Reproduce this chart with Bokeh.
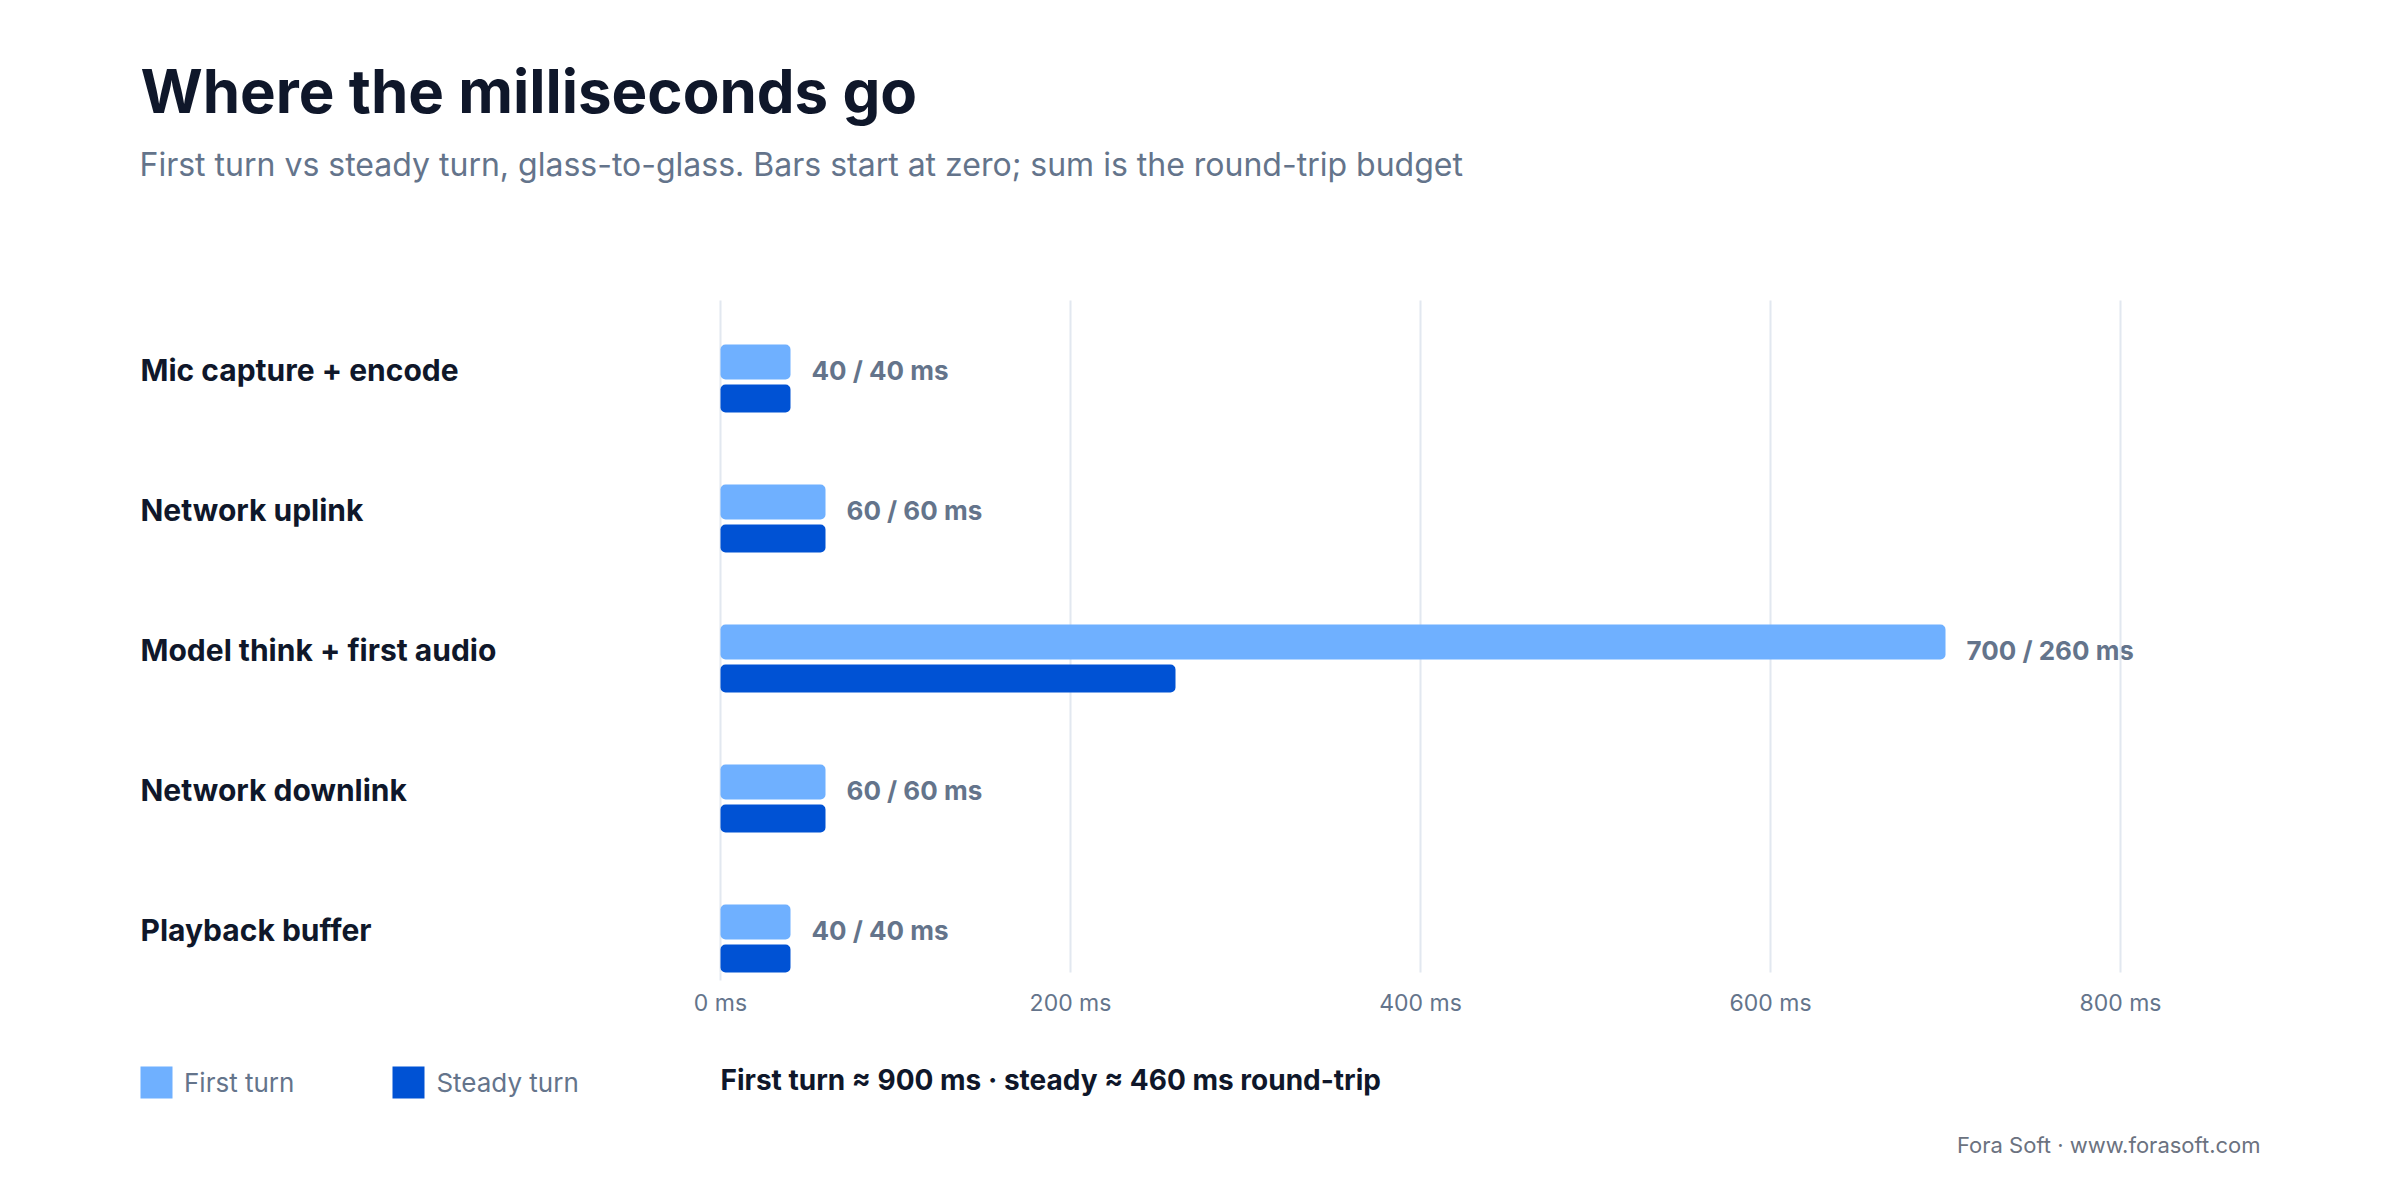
from bokeh.plotting import figure
from bokeh.models import ColumnDataSource, Legend, LegendItem, Range1d
from bokeh.core.properties import value
from bokeh.embed import file_html
from bokeh.resources import INLINE

# ---- data ----
categories = ["Mic capture + encode", "Network uplink", "Model think + first audio",
              "Network downlink", "Playback buffer"]
first_turn = [40, 60, 700, 60, 40]
steady_turn = [40, 60, 260, 60, 40]
x_ticks = [0, 200, 400, 600, 800]
tick_labels = ["0 ms", "200 ms", "400 ms", "600 ms", "800 ms"]
series_names = ["First turn", "Steady turn"]
title_text = "Where the milliseconds go"
subtitle_text = ("First turn vs steady turn, glass-to-glass. Bars start at zero; "
                 "sum is the round-trip budget")
footer_text = "Fora Soft · www.forasoft.com"

# ---- layout / style ----
W, H = 2384, 1184
X_ZERO_PX, PX_PER_MS = 720, 1.75      # pixel of 0 ms, pixels per ms
Y_FIRST_PX, BAND_PX = 371, 140        # pixel of first category centre, band height
LIGHT = "#6fb0ff"
DARK = "#0052d4"
INK = "#0f172a"
MUTED = "#64748b"
GRID = "#e2e8f0"
FONT = "Inter"


def xd(px):
    return (px - X_ZERO_PX) / PX_PER_MS


def yd(px):
    return (Y_FIRST_PX - px) / BAND_PX


pos = [-i for i in range(len(categories))]
CAT_DY = yd(Y_FIRST_PX - 2)
VAL_DY = yd(Y_FIRST_PX - 1)
src = ColumnDataSource(dict(
    cat=categories,
    y=pos,
    y_cat=[v + CAT_DY for v in pos],
    y_val=[v + VAL_DY for v in pos],
    first=first_turn,
    steady=steady_turn,
    y_first=[v + 0.068 for v in pos],
    y_steady=[v - 0.193 for v in pos],
    lab=[f"{a} / {b} ms" for a, b in zip(first_turn, steady_turn)],
    lx=[max(a, b) for a, b in zip(first_turn, steady_turn)],
    cx=[xd(140)] * len(categories),
))

p = figure(width=W, height=H, output_backend="svg", toolbar_location=None,
           x_range=Range1d(xd(0), xd(W)), y_range=Range1d(yd(H), yd(0)),
           x_axis_location=None, y_axis_location=None, min_border=0)
p.outline_line_color = None
p.background_fill_color = "white"
p.border_fill_color = "white"
p.grid.visible = False


def txt(xs, ys, texts, size, color, bold=False, align="left", **kw):
    return p.text(x=xs, y=ys, text=texts, text_font=value(FONT),
                  text_font_size=f"{size}px",
                  text_font_style="bold" if bold else "normal",
                  text_color=color, text_align=align,
                  text_baseline="alphabetic", **kw)


# value labels (drawn first so grid lines pass over them, as in the reference)
p.text(x="lx", y="y_val", text="lab", source=src, x_offset=21,
       text_baseline="alphabetic", text_align="left", text_font=value(FONT),
       text_font_style="bold", text_font_size="26px", text_color=MUTED)

# vertical grid at tick values
n = len(x_ticks)
p.segment(x0=x_ticks, y0=[yd(972)] * n, x1=x_ticks, y1=[yd(300)] * n,
          line_color=GRID, line_width=2)
p.segment(x0=[x_ticks[0]], y0=[yd(980)], x1=[x_ticks[0]], y1=[yd(972)],
          line_color=GRID, line_width=2)

# bars
r1 = p.hbar(y="y_first", left=0, right="first", height=0.25, source=src,
            fill_color=LIGHT, line_color=None, border_radius=5)
r2 = p.hbar(y="y_steady", left=0, right="steady", height=0.2, source=src,
            fill_color=DARK, line_color=None, border_radius=5)

# category labels
p.text(x="cx", y="y_cat", text="cat", source=src, text_font=value(FONT),
       text_font_style="bold", text_font_size="30px", text_color=INK,
       text_align="left", text_baseline="alphabetic")

# tick labels
txt(x_ticks, [yd(1002)] * n, tick_labels, 23, MUTED, align="center")

# title / subtitle
txt([xd(140)], [yd(90)], [title_text], 60, INK, bold=True)
txt([xd(139)], [yd(164)], [subtitle_text], 32, MUTED)

# summary + footer
summary = (f"{series_names[0]} ≈ {sum(first_turn)} ms · "
           f"steady ≈ {sum(steady_turn)} ms round-trip")
txt([0], [yd(1079)], [summary], 28, INK, bold=True)
txt([xd(2260)], [yd(1144)], [footer_text], 22, "#6b7280", align="right")

legend = Legend(items=[LegendItem(label=series_names[0], renderers=[r1]),
                       LegendItem(label=series_names[1], renderers=[r2])],
                location=(136, H - 1102), orientation="horizontal",
                glyph_width=40, glyph_height=40, label_height=40,
                label_standoff=8, spacing=94, padding=0, margin=0,
                border_line_alpha=0, background_fill_alpha=0,
                label_text_font=FONT, label_text_font_size="26px",
                label_text_color=MUTED)
p.add_layout(legend, "center")

open("out.html", "w").write(file_html(p, INLINE))
